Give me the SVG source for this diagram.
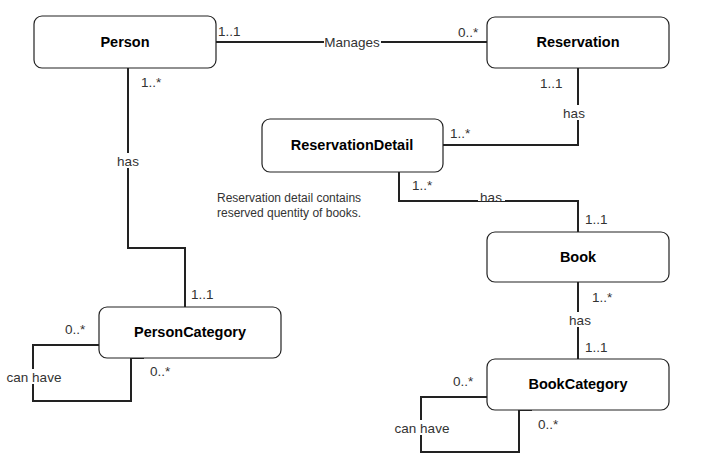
<svg xmlns="http://www.w3.org/2000/svg" width="706" height="467" viewBox="0 0 706 467">
<style>
.box{fill:#fff;stroke:#222;stroke-width:1.2}
.title{font-family:"Liberation Sans",Arial,sans-serif;font-size:14.5px;font-weight:bold;fill:#000;text-anchor:middle}
.lbl{font-family:"Liberation Sans",Arial,sans-serif;font-size:13.5px;fill:#333}
.mid{text-anchor:middle}
.note{font-family:"Liberation Sans",Arial,sans-serif;font-size:12px;fill:#333}
.edge{fill:none;stroke:#222;stroke-width:2}
</style>
<rect width="706" height="467" fill="#fff"/>
<g id="connectors">
<path class="edge" d="M216,42H487"/>
<path class="edge" d="M578,68V145H443"/>
<path class="edge" d="M399,172V201H578V232"/>
<path class="edge" d="M578,282V359"/>
<path class="edge" d="M128,68V248H185V307"/>
<path class="edge" d="M99,345H33V401H131V358H144"/>
<path class="edge" d="M487,397H421V452H519V410H532"/>
<g class="lbl">
<rect x="324" y="34" width="57" height="15" fill="#fff"/>
<text x="352" y="47" class="mid">Manages</text>
<text x="218" y="36">1..1</text>
<text x="458" y="37">0..*</text>
<rect x="562" y="105" width="32" height="15" fill="#fff"/>
<text x="574" y="118" class="mid">has</text>
<text x="540" y="88">1..1</text>
<text x="450" y="138">1..*</text>
<rect x="478" y="192" width="27" height="9" fill="#fff"/>
<text x="491" y="202" class="mid">has</text>
<text x="412" y="190">1..*</text>
<text x="585" y="224">1..1</text>
<rect x="565" y="312" width="30" height="15" fill="#fff"/>
<text x="580" y="325" class="mid">has</text>
<text x="592" y="302">1..*</text>
<text x="585" y="352">1..1</text>
<rect x="113" y="153" width="30" height="15" fill="#fff"/>
<text x="128" y="166" class="mid">has</text>
<text x="141" y="87">1..*</text>
<text x="191" y="299">1..1</text>
<rect x="5" y="369" width="59" height="15" fill="#fff"/>
<text x="34" y="382" class="mid">can have</text>
<text x="65" y="334">0..*</text>
<text x="150" y="376">0..*</text>
<rect x="392" y="420" width="59" height="15" fill="#fff"/>
<text x="422" y="433" class="mid">can have</text>
<text x="453" y="386">0..*</text>
<text x="538" y="429">0..*</text>
</g>
</g>
<g id="Person"><rect class="box" x="34" y="16" width="182" height="52" rx="8"/><text class="title" x="125" y="47">Person</text></g>
<g id="Reservation"><rect class="box" x="487" y="17" width="182" height="51" rx="8"/><text class="title" x="578" y="47">Reservation</text></g>
<g id="ReservationDetail"><rect class="box" x="262" y="119" width="181" height="53" rx="8"/><text class="title" x="352" y="150">ReservationDetail</text></g>
<g id="Book"><rect class="box" x="487" y="232" width="182" height="50" rx="8"/><text class="title" x="578" y="262">Book</text></g>
<g id="BookCategory"><rect class="box" x="487" y="359" width="182" height="51" rx="8"/><text class="title" x="578" y="389">BookCategory</text></g>
<g id="PersonCategory"><rect class="box" x="99" y="307" width="182" height="51" rx="8"/><text class="title" x="190" y="337">PersonCategory</text></g>
<g id="note"><text class="note" x="217" y="202">Reservation detail contains</text><text class="note" x="217" y="217">reserved quentity of books.</text></g>
</svg>
